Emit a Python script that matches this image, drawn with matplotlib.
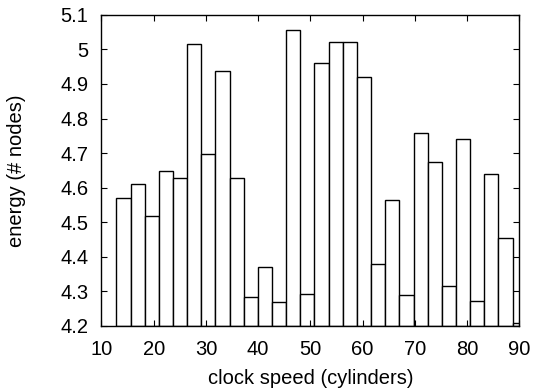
import matplotlib
matplotlib.use("Agg")
import matplotlib.pyplot as plt
from matplotlib.ticker import FuncFormatter

# Data
x_centers = [14.22, 16.93, 19.64, 22.35, 25.06, 27.76, 30.47, 33.18, 35.89,
             38.60, 41.31, 44.02, 46.72, 49.43, 52.14, 54.85, 57.56, 60.27,
             62.98, 65.68, 68.39, 71.10, 73.81, 76.52, 79.23, 81.94, 84.64,
             87.35, 90.06]
energy = [4.571, 4.611, 4.519, 4.648, 4.629, 5.016, 4.697, 4.936, 4.629,
          4.285, 4.372, 4.270, 5.055, 4.292, 4.960, 5.022, 5.022, 4.920,
          4.380, 4.565, 4.289, 4.758, 4.675, 4.317, 4.740, 4.273, 4.639,
          4.454, 4.210]
bar_width = 2.71
x_ticks = [10, 20, 30, 40, 50, 60, 70, 80, 90]
y_ticks = [4.2, 4.3, 4.4, 4.5, 4.6, 4.7, 4.8, 4.9, 5.0, 5.1]
baseline = 4.2

plt.rcParams['font.family'] = ['Liberation Sans', 'DejaVu Sans']

fig = plt.figure(figsize=(5.34, 3.89), dpi=100)
ax = fig.add_axes([0.190, 0.162, 0.7825, 0.800])

ax.bar(x_centers, [e - baseline for e in energy], bottom=baseline,
       width=bar_width, facecolor='white', edgecolor='black', linewidth=1.0)

ax.set_xlim(10, 90)
ax.set_ylim(4.2, 5.1)
ax.set_xticks(x_ticks)
ax.set_yticks(y_ticks)
ax.yaxis.set_major_formatter(FuncFormatter(lambda v, p: f"{v:g}"))
ax.tick_params(direction='in', top=True, right=True, length=4, width=0.8,
               labelsize=14.5)
ax.tick_params(axis='x', pad=10)
ax.tick_params(axis='y', pad=9.5)
for s in ax.spines.values():
    s.set_linewidth(1.0)

ax.set_xlabel('clock speed (cylinders)', fontsize=14.5, va='center')
ax.set_ylabel('energy (# nodes)', fontsize=14.5, va='center')
ax.xaxis.set_label_coords(0.5, -0.17)
ax.yaxis.set_label_coords(-0.203, 0.5)

fig.savefig('out.png', dpi=100)
